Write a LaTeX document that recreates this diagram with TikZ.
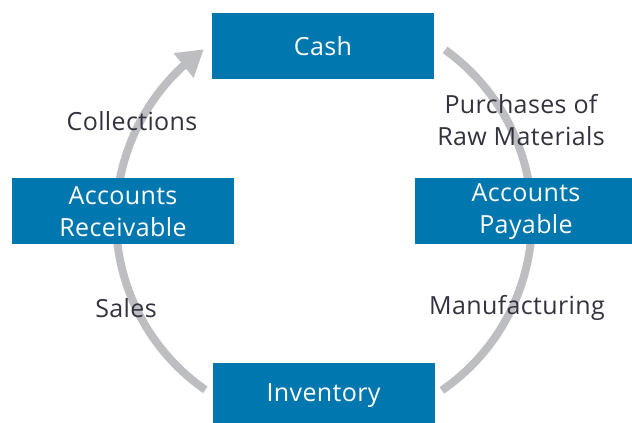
\documentclass[tikz,border=0pt]{standalone}
\usepackage{fontspec}
\setmainfont[LetterSpace=1.5]{Open Sans}
\usetikzlibrary{arrows.meta,bending}
\definecolor{cyclebox}{HTML}{0077AE}
\definecolor{cyclegray}{HTML}{BDBEC1}
\definecolor{cycletext}{HTML}{33333F}

\begin{document}
\begin{tikzpicture}[
 x=1pt,y=1pt,
 every node/.style={font=\fontsize{25}{32}\selectfont},
 account/.style={fill=cyclebox,text=white,align=center,inner sep=0pt,
  minimum width=222pt,minimum height=66pt},
 flow/.style={text=cycletext,align=center},
 cyclearc/.style={draw=cyclegray,line width=8pt}
]
 \useasboundingbox (0,0) rectangle (632,423);

 % one ring behind the boxes, radius 208 round the middle
 \coordinate (hub) at (324,204);
 \coordinate (pay-start) at ([shift={(54.4:208)}]hub);
 \coordinate (sale-start) at ([shift={(235.2:208)}]hub);

 \draw[cyclearc] (pay-start) arc[start angle=54.4,end angle=-55.5,radius=208];
 \draw[cyclearc,-{Triangle[length=26pt,width=30pt]}]
  (sale-start) arc[start angle=235.2,end angle=125.3,radius=208];

 \node[account] (cash) at (323,377) {Cash};
 \node[account] (receivable) at (123,211.5) {Accounts\\Receivable};
 \node[account] (payable) at (526,211.5) {Accounts\\Payable};
 \node[account] (inventory) at (323.5,27) {Inventory};

 \node[flow] (collections) at (132,302) {Collections};
 \node[flow] (purchases) at (521,303) {Purchases of\\Raw Materials};
 \node[flow] (sales) at (126,115) {Sales};
 \node[flow] (manufacturing) at (517,115) {Manufacturing};
\end{tikzpicture}
\end{document}
